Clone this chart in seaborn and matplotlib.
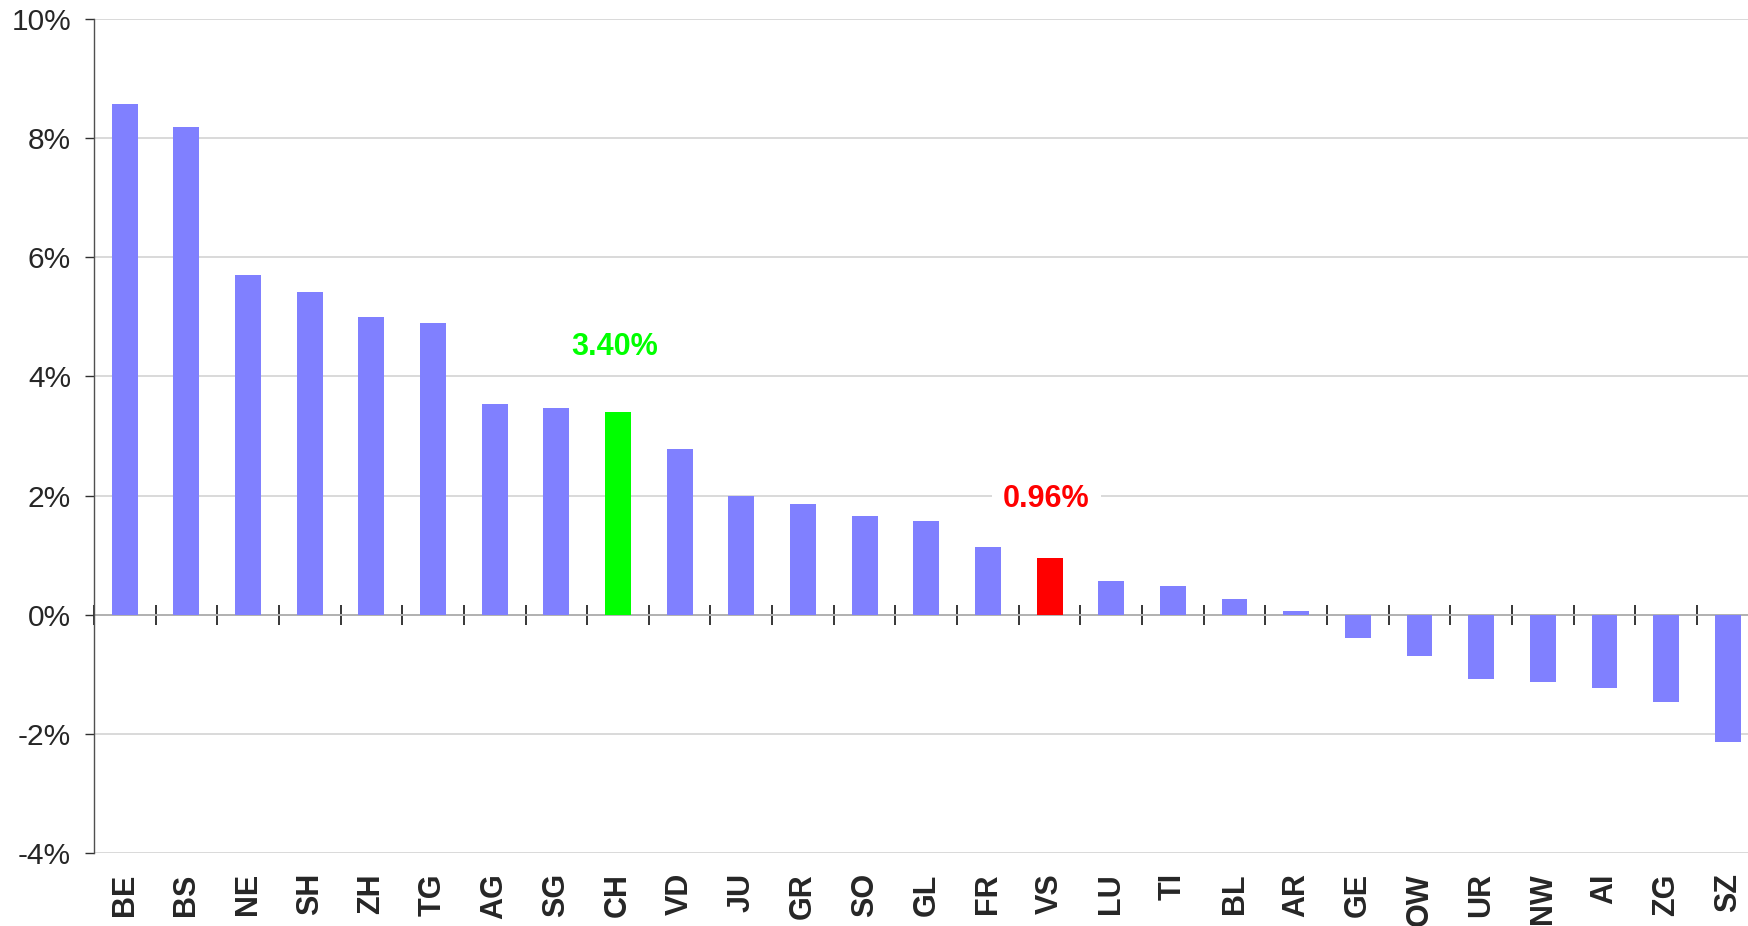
import numpy as np
import pandas as pd
import matplotlib
matplotlib.use("Agg")
import matplotlib.pyplot as plt
import seaborn as sns

# cantons, sorted by change
cantons = ["BE", "BS", "NE", "SH", "ZH", "TG", "AG", "SG", "CH", "VD", "JU", "GR", "SO", "GL",
           "FR", "VS", "LU", "TI", "BL", "AR", "GE", "OW", "UR", "NW", "AI", "ZG", "SZ"]
change = [8.57, 8.18, 5.70, 5.42, 4.99, 4.90, 3.53, 3.47, 3.40, 2.78, 1.99, 1.86, 1.65, 1.58,
          1.14, 0.96, 0.56, 0.49, 0.26, 0.06, -0.39, -0.70, -1.08, -1.13, -1.23, -1.46, -2.14]
highlight = {"CH": "#00ff00", "VS": "#ff0000"}
label_lift = {"CH": 1.10, "VS": 0.99}
y_ticks = [-4, -2, 0, 2, 4, 6, 8, 10]

df = pd.DataFrame({"canton": cantons, "change": change})
palette = {c: highlight.get(c, "#8080ff") for c in cantons}

sns.set_style("white")
plt.rcParams["font.family"] = ["Liberation Sans", "DejaVu Sans"]

fig = plt.figure(figsize=(17.49, 9.26), dpi=100)
ax = fig.add_axes([0.0537, 0.0788, 0.9518, 0.9007])

sns.barplot(data=df, x="canton", y="change", hue="canton", palette=palette,
            legend=False, width=0.42, linewidth=0, saturation=1, ax=ax, zorder=2)

ax.set_xlim(-0.5, len(cantons) - 0.5)
ax.set_ylim(-4, 10)
ax.set_yticks(y_ticks)
ax.set_yticklabels([f"{t}%" for t in y_ticks])
ax.yaxis.grid(True, color="#d0d0d0", linewidth=1.1, zorder=0)
ax.set_axisbelow(True)
ax.set_xlabel("")
ax.set_ylabel("")

for s in ["top", "right", "bottom"]:
    ax.spines[s].set_visible(False)
ax.spines["left"].set_color("#505050")
ax.spines["left"].set_linewidth(1.0)

ax.tick_params(axis="y", direction="out", length=6.5, width=1, color="#303030",
               labelsize=21.5, pad=10, left=True)
ax.tick_params(axis="x", length=0, labelsize=22, pad=14.5)
for lab in ax.get_xticklabels():
    lab.set_rotation(90)
    lab.set_fontweight("bold")
    lab.set_verticalalignment("top")
    lab.set_horizontalalignment("center")

# zero line with category separators
zero = ax.secondary_xaxis(4 / 14)
zero.set_xticks(np.arange(len(cantons) + 1) - 0.5)
zero.tick_params(direction="inout", length=14, width=1.1, color="black",
                 labelbottom=False, labeltop=False)
for s in zero.spines.values():
    s.set_color("#404040")
    s.set_linewidth(1.3)

# value labels for highlighted bars
for c, col in highlight.items():
    i = cantons.index(c)
    v = change[i]
    ax.text(i - 0.05, v + label_lift[c], f"{v:.2f}%", ha="center", va="center", color=col,
            fontsize=22, fontweight="bold", zorder=5,
            bbox=dict(facecolor="white", edgecolor="none", pad=8))

fig.savefig("out.png", dpi=100)
